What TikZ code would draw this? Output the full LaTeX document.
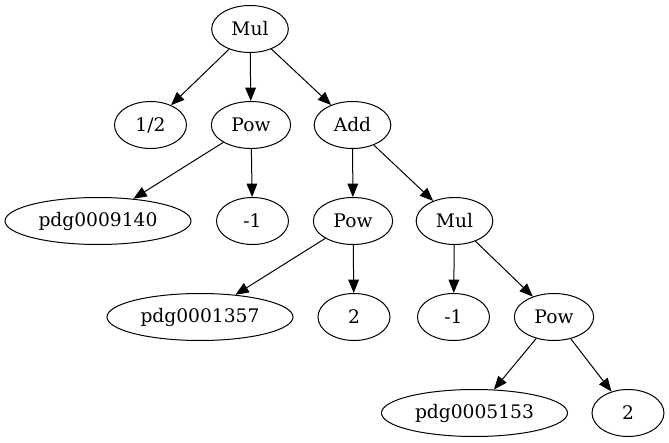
\documentclass[tikz,border=0pt]{standalone}
\usepackage{fontspec}
\setmainfont{DejaVu Serif}
\usetikzlibrary{shapes.geometric,arrows.meta}
\tikzset{
  gv/.style={ellipse, draw, line width=0.75pt, inner sep=0pt, minimum height=35.25pt,
    font=\fontsize{14pt}{16pt}\selectfont},
  small/.style={gv, minimum width=54pt},
  mid/.style={gv, minimum width=57.5pt},
  wide/.style={gv, minimum width=139.5pt},
  edge/.style={line width=0.75pt, -{Triangle[length=10pt,width=8pt]}}
}
\begin{document}
\begin{tikzpicture}[x=0.75pt,y=-0.75pt]
\useasboundingbox (0,0) rectangle (669,443);
\node[mid] (mul0) at (250,29) {Mul};
\node[small] (half) at (150.5,125) {1/2};
\node[mid, minimum width=59.5pt] (pow1) at (251,125) {Pow};
\node[mid] (add) at (352.5,125) {Add};
\node[wide] (p9140) at (98,221) {pdg0009140};
\node[small] (m1a) at (252.5,221) {-1};
\node[mid, minimum width=59.5pt] (pow2) at (353,221) {Pow};
\node[mid] (mul2) at (454.5,221) {Mul};
\node[wide] (p1357) at (200,317) {pdg0001357};
\node[small] (twoa) at (354,317) {2};
\node[small] (m1b) at (453.5,317) {-1};
\node[mid, minimum width=59.5pt] (pow3) at (554,317) {Pow};
\node[wide] (p5153) at (474.5,413) {pdg0005153};
\node[small] (twob) at (628,413) {2};
\draw[edge] (mul0) -- (half);
\draw[edge] (mul0) -- (pow1);
\draw[edge] (mul0) -- (add);
\draw[edge] (pow1) -- (p9140);
\draw[edge] (pow1) -- (m1a);
\draw[edge] (add) -- (pow2);
\draw[edge] (add) -- (mul2);
\draw[edge] (pow2) -- (p1357);
\draw[edge] (pow2) -- (twoa);
\draw[edge] (mul2) -- (m1b);
\draw[edge] (mul2) -- (pow3);
\draw[edge] (pow3) -- (p5153);
\draw[edge] (pow3) -- (twob);
\end{tikzpicture}
\end{document}
